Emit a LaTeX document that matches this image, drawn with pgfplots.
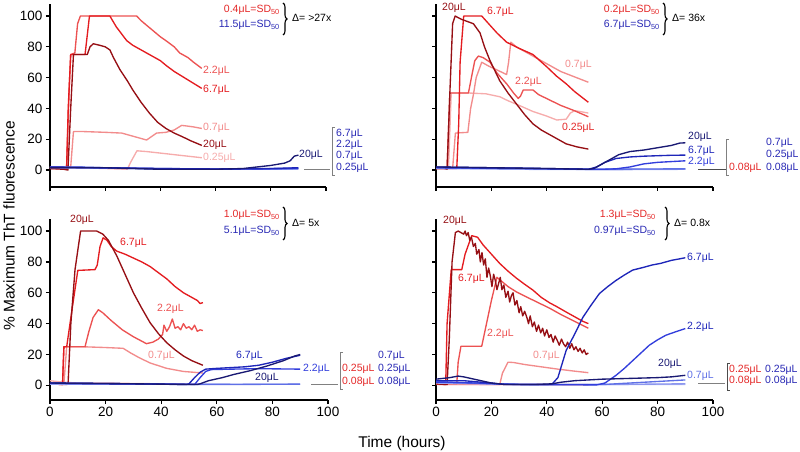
\documentclass[border=0pt]{standalone}
\usepackage{pgfplots}
\pgfplotsset{compat=1.18}
\usepackage{fontspec}
\setmainfont{Liberation Sans}
\usetikzlibrary{decorations.pathreplacing}
\definecolor{c20}{RGB}{150,15,20}
\definecolor{c67}{RGB}{228,28,32}
\definecolor{c22}{RGB}{236,82,82}
\definecolor{c07}{RGB}{242,140,140}
\definecolor{c025}{RGB}{246,172,172}
\definecolor{c008}{RGB}{248,190,190}
\definecolor{b20}{RGB}{25,25,115}
\definecolor{b67}{RGB}{30,38,185}
\definecolor{b22}{RGB}{50,62,220}
\definecolor{b07}{RGB}{95,112,230}
\definecolor{b025}{RGB}{140,150,238}
\definecolor{b008}{RGB}{170,180,245}
\definecolor{tred}{RGB}{228,40,40}
\definecolor{tblue}{RGB}{40,40,180}
\newcommand{\lfont}{\fontsize{10.5}{12}\selectfont}
\newcommand{\lab}[4]{\node[anchor=west,inner sep=0pt,text=#3,font=\lfont] at (#1,#2) {#4};}
\newcommand{\labe}[4]{\node[anchor=east,inner sep=0pt,text=#3,font=\lfont] at (#1,#2) {#4};}
\newcommand{\SD}{=SD\textsubscript{50}}
\pgfplotsset{panel/.style={scale only axis, xmin=0, xmax=100, ymax=108,
  axis lines*=left, xtick={0,20,40,60,80,100}, ytick={0,20,40,60,80,100},
  tick align=outside, major tick length=4pt,
  axis line style={line width=1.3pt, black}, tick style={line width=1.3pt, black},
  tick label style={font=\fontsize{13.5}{15}\selectfont},
  /pgf/number format/assume math mode=true,
  every axis plot/.append style={line width=1.35pt, no markers, line join=round}}}
\begin{document}
\begin{tikzpicture}
\path[use as bounding box] (0,0) rectangle (800pt,452pt);
% ---------------- Top left
\begin{axis}[panel, at={(50pt,265pt)}, anchor=south west, width=276pt, height=183.3pt, ymin=-11, xticklabels=\empty]
\addplot[c025] coordinates {(0,2)(3,2)(5,1.5)(10,1.5)(20,1)(28,0.5)(29.5,6)(31.5,12.5)(35,12)(40,11)(45,10)(50,9)(55,8)};
\addplot[c07] coordinates {(0,1.5)(6,1.5)(7.5,2)(8.5,25)(12,25)(20,24.5)(26,24)(30,22)(35,19.5)(37,22)(38.6,24)(42,24.5)(45,26)(47.7,29)(50,28.5)(52,28)(55,27)};
\addplot[c22] coordinates {(0,1)(5,1)(6,2)(7,55)(7.5,75)(9,76)(10,95)(11,100)(31.4,100)(33,97)(35,94)(40,86.5)(42,84)(45,80)(47,76)(50,73)(52,70)(55,66)};
\addplot[c67] coordinates {(0,1)(5,1)(6,0.5)(6.6,40)(7.5,75)(12.7,75)(14.3,100)(21.7,100)(24,93)(27.8,84)(30,81)(35,76)(40,71)(42,68)(45,64)(50,58.5)(55,53)};
\addplot[c20] coordinates {(0,1)(5,0.5)(6.5,0)(7.5,40)(8.5,75)(13.5,75)(14.5,80)(15.7,82)(18,81)(20,80)(21.7,78)(23,73)(25.4,65)(28,58)(30,52)(33,44)(36,37)(39,31)(42,27)(45,24)(48,21.6)(51,19)(55,16)};
\addplot[b025] coordinates {(0,1.5)(20,1.2)(40,0.8)(60,0.7)(80,0.6)(90,0.5)};
\addplot[b07] coordinates {(0,2)(10,2)(30,1)(50,0.5)(70,0.8)(90,1)};
\addplot[b22] coordinates {(0,1.8)(15,1.5)(40,1)(60,0.5)(80,0.8)(90,1.2)};
\addplot[b67] coordinates {(0,2)(20,1.5)(40,1)(60,0.7)(80,1)(90,1.5)};
\addplot[b20] coordinates {(0,1.5)(20,1.5)(40,0.5)(60,0.5)(70,1)(75,2)(80,3)(85,4.5)(87,6)(88.5,9)(90,9.7)};
\end{axis}
% ---------------- Top right
\begin{axis}[panel, at={(436pt,265pt)}, anchor=south west, width=277pt, height=183.3pt, ymin=-11, xticklabels=\empty, yticklabels=\empty]
\addplot[c025] coordinates {(0,1)(4.5,1)(5.5,50)(12,50)(18,49.5)(23,47.6)(26,45)(30,42)(35,38)(40,35)(43.6,32.5)(47,33)(48.5,37)(50,38.5)(52,38)(55,37)};
\addplot[c07] coordinates {(0,1)(6,1)(7,24)(11.5,24.5)(12.5,40)(13.5,49)(14.5,60)(16.5,70)(19,67.5)(22,65)(25.5,62)(26.2,70)(27,83)(29,80)(32,77)(35,74)(40,69)(45,64)(50,60.5)(55,57)};
\addplot[c22] coordinates {(0,1)(4,1)(5,50)(11.7,50)(13,62)(14,71)(15.3,74)(17,73)(19.5,70)(22,63)(25.5,56)(28,50)(29.7,46.5)(30.5,48)(31.5,52)(35,52)(37,49)(41,45.5)(45,42)(50,38.5)(55,34.6)};
\addplot[c67] coordinates {(0,1)(7.5,1)(8.2,30)(8.7,70)(10,100)(16.5,100)(19,95)(22,89)(25.5,83)(30,79)(35,75)(40,67)(43.5,61)(47,56)(50,51)(55,44)};
\addplot[c20] coordinates {(0,1)(3,1)(4,0.5)(5,50)(6,95)(6.9,100)(9,98)(12,96)(13.5,95)(15.9,89)(17.5,80)(19.5,71)(23,58)(26,50)(29,43)(32,36)(35,30)(38,26)(41,23)(44,20)(47,17)(51,15)(55,13.6)};
\addplot[b008] coordinates {(0,1)(30,0.5)(55,0.3)(70,0.3)(90,0.5)};
\addplot[b025] coordinates {(0,1.2)(30,0.8)(55,0.4)(90,0.6)};
\addplot[b07] coordinates {(0,1.5)(30,1)(55,0.5)(90,0.8)};
\addplot[b22] coordinates {(0,1.5)(30,1)(55,0.5)(60,0.5)(65,0.8)(70,2)(75,4)(80,5)(85,5.5)(90,6)};
\addplot[b67] coordinates {(0,2)(20,1.5)(40,1)(55,0.5)(58,2)(61,5)(65,7.5)(70,8.5)(75,9)(80,9.3)(85,9.6)(90,9.7)};
\addplot[b20] coordinates {(0,2)(20,1.5)(40,1)(55,0.5)(57,1)(60,4)(63,7)(66,10)(70,12)(75,13)(80,14.5)(85,16)(88,17.5)(90,17.7)};
\end{axis}
% ---------------- Bottom left
\begin{axis}[panel, at={(50pt,52pt)}, anchor=south west, width=278pt, height=181.3pt, ymin=-9.5]
\addplot[c025] coordinates {(0,3)(5,2)(10,1.5)(20,1.5)(30,1.2)(40,1)(55,1)};
\addplot[c07] coordinates {(0,1.5)(4,1)(5,1)(6,25)(12,25)(20,24.5)(26.3,24)(29,21)(32,18)(36,14.5)(42,11)(48,9)(55,8)};
\addplot[c22] coordinates {(0,1)(4.5,0.5)(5,25)(12.6,25)(14,35)(15.5,44)(17.4,49)(19,47)(22,42)(26,36)(30,31.5)(34.7,27)(37,28)(39,30)(40.5,33)(41,39)(42,35)(43,38)(44,43)(45,37)(46,38)(47,36)(48,40)(49,37)(50,38)(51,36)(52,39)(53,35)(54,36)(55,35.5)};
\addplot[c67] coordinates {(0,1)(4.5,0.5)(5,25)(6,25)(8,50)(10,74.5)(16.2,75)(17,78)(18,90)(19.1,95.6)(20.5,94)(22,90)(24,87)(27,85)(30,82.5)(33,80)(36,77)(39,73)(42,69)(45,64)(48,60)(51,57)(53,55)(54,53)(55,53.6)};
\addplot[c20] coordinates {(0,1)(6,0.5)(6.5,1)(7.5,40)(9,75)(11,100)(16.8,100)(19,98)(21,94)(24,84)(27,72)(30,60)(33,50)(36,40.6)(39,33.5)(42,27.6)(45,23)(48,19)(51,16)(55,13)};
\addplot[b008] coordinates {(0,0.5)(90,0.5)};
\addplot[b025] coordinates {(0,1)(45,0.8)(90,0.7)};
\addplot[b07] coordinates {(0,1.5)(30,1)(60,0.5)(90,0.8)};
\addplot[b22] coordinates {(0,1.2)(40,0.8)(52,0.5)(54,5)(56,9)(58,10.2)(65,10.5)(75,10.8)(90,10.5)};
\addplot[b67] coordinates {(0,1.5)(30,1)(49,0.5)(50,1)(52,5)(54,8.5)(56,10.5)(60,11)(65,11.5)(70,12)(75,13)(80,15)(85,17.5)(90,19.5)};
\addplot[b20] coordinates {(0,1.5)(30,1)(53,0.5)(54,1)(57,3)(62,5)(66,7)(72,9.5)(78,12.5)(84,16)(88,19)(90,20)};
\end{axis}
% ---------------- Bottom right
\begin{axis}[panel, at={(436pt,52pt)}, anchor=south west, width=277pt, height=181.3pt, ymin=-9.5, yticklabels=\empty]
\addplot[c008] coordinates {(0,0.5)(55,0.3)};
\addplot[c025] coordinates {(0,1)(55,0.5)};
\addplot[c07] coordinates {(0,1)(23,0.5)(24,8)(26,15)(28,14.8)(32,13.5)(38,12)(44,10.5)(50,9.2)(55,8.2)};
\addplot[c22] coordinates {(0,1)(7.5,1)(8,15)(9,25.3)(16.5,25.3)(18,38)(20,55)(22,70)(24,67)(26,64)(29,60.6)(33,57)(37,53.5)(41,50)(45,46)(50,41.5)(55,37)};
\addplot[c67] coordinates {(0,1)(3.5,0.5)(4,40)(5.5,75)(9.3,75)(10.5,85)(12.9,97)(15,96)(17,91)(20,85)(23,79)(26,74)(29,69.5)(32,65.5)(35,61.7)(38,57)(41,53.5)(43.6,51)(47,47.5)(50,44.5)(53,41.5)(55,40)};
\addplot[c20] coordinates {(0,1)(4,0.5)(4.8,30)(5.8,80)(7,99)(8,100)(9,99)(10,98)(10.5,100)(11,97)(11.6,99)(12.2,94)(12.8,96)(13.5,90)(14.2,92)(14.7,85)(15.5,88)(16,80)(16.6,86)(17.2,78)(17.8,82)(18.4,70)(19,76)(19.6,71)(20.2,64)(20.8,72)(21.4,68)(22,62)(22.6,66)(23.2,70)(23.8,62)(24.5,65)(25.2,57)(26,61)(26.6,54)(27.2,58)(27.8,60)(28.5,52)(29.2,55)(30,47)(30.6,51)(31.3,45)(32,48)(32.8,44)(33.4,40)(34,45)(34.8,38)(35.5,41)(36.3,35)(37,39)(37.8,34)(38.5,37)(39.2,32)(40,36)(40.8,31)(41.5,33)(42.3,28)(43,32)(43.8,29)(44.5,26)(45.3,30)(46,27)(46.8,25)(47.5,28)(48.3,24)(49,27)(49.8,23)(50.5,25)(51.3,22)(52,24)(52.8,21)(53.5,23)(54.2,20)(55,21)};
\addplot[b008] coordinates {(0,1.5)(30,0.5)(90,0.5)};
\addplot[b025] coordinates {(0,2)(30,0.5)(60,0.5)(90,1)};
\addplot[b07] coordinates {(0,2.5)(20,1)(40,0.5)(60,0.5)(70,1.5)(80,2.5)(90,3.5)};
\addplot[b22] coordinates {(0,2)(15,1.5)(30,0.5)(58,0.3)(61,1.5)(65,6.5)(68,11)(71,16)(74,21)(77,26)(80,29.5)(83,32.5)(87,35)(90,36.8)};
\addplot[b67] coordinates {(0,3)(10,3)(20,1.5)(25,0.5)(40,0.5)(42,1)(44,5)(47,22.7)(50,33)(53,44)(56,52)(59,59.5)(62,64)(65,68)(68,71.5)(71,74.7)(75,76.5)(78,78)(81,79)(85,81)(88,82)(90,82.7)};
\addplot[b20] coordinates {(0,4)(5,5)(8,6)(10,5.5)(15,3.5)(20,1.5)(25,0.5)(35,0.5)(42,1)(45,2)(50,3)(55,3.5)(60,4)(70,4.5)(80,5)(85,5.5)(90,6.5)};
\end{axis}
% ---------------- axis titles
\node[rotate=90,font=\fontsize{15.5}{18}\selectfont,inner sep=0pt] at (9pt,226pt) {\% Maximum ThT fluorescence};
\node[font=\fontsize{15.5}{18}\selectfont,inner sep=0pt] at (402pt,9pt) {Time (hours)};
% ---------------- braces
\draw[decorate,decoration={brace,amplitude=4pt},line width=1.1pt] (283pt,449pt) -- (283pt,417pt);
\draw[decorate,decoration={brace,amplitude=4pt},line width=1.1pt] (663pt,449pt) -- (663pt,417pt);
\draw[decorate,decoration={brace,amplitude=4pt},line width=1.1pt] (283pt,245pt) -- (283pt,212pt);
\draw[decorate,decoration={brace,amplitude=4pt},line width=1.1pt] (665pt,245pt) -- (665pt,212pt);
\begin{scope}[x=1pt,y=-1pt,shift={(0pt,452pt)}]
% TL
\labe{280}{10}{tred}{0.4μL\SD}
\labe{280}{25}{tblue}{11.5μL\SD}
\lab{292}{18}{black}{Δ= >27x}
\lab{203}{71}{c22}{2.2μL}
\lab{203}{90}{c67}{6.7μL}
\lab{203}{128}{c07}{0.7μL}
\lab{203}{145}{c20}{20μL}
\lab{203}{158}{c025}{0.25μL}
\lab{299}{155}{b20}{20μL}
\draw[gray,line width=1pt] (304,170) -- (330,170);
\draw[gray,line width=0.9pt] (335,127) -- (332,127) -- (332,175) -- (335,175);
\lab{336}{134}{tblue}{6.7μL}
\lab{336}{145}{tblue}{2.2μL}
\lab{336}{156}{tblue}{0.7μL}
\lab{336}{168}{tblue}{0.25μL}
% TR
\labe{660}{10}{tred}{0.2μL\SD}
\labe{660}{25}{tblue}{6.7μL\SD}
\lab{672}{18}{black}{Δ= 36x}
\lab{442}{8}{c20}{20μL}
\lab{487}{12}{c67}{6.7μL}
\lab{565}{65}{c07}{0.7μL}
\lab{515}{82}{c22}{2.2μL}
\lab{562}{128}{tred}{0.25μL}
\lab{688}{137}{b20}{20μL}
\lab{688}{151}{b67}{6.7μL}
\lab{688}{162}{b22}{2.2μL}
\draw[black!70,line width=1pt] (698,170) -- (726,170);
\draw[gray,line width=0.9pt] (729,139) -- (726,139) -- (726,175) -- (729,175);
\lab{729}{168}{tred}{0.08μL}
\lab{766}{143}{tblue}{0.7μL}
\lab{766}{155}{tblue}{0.25μL}
\lab{766}{168}{tblue}{0.08μL}
% BL
\labe{280}{215}{tred}{1.0μL\SD}
\labe{280}{231}{tblue}{5.1μL\SD}
\lab{292}{223}{black}{Δ= 5x}
\lab{70}{220}{c20}{20μL}
\lab{120}{243}{c67}{6.7μL}
\lab{157}{309}{c22}{2.2μL}
\lab{148}{356}{c07}{0.7μL}
\lab{236}{356}{b67}{6.7μL}
\lab{303}{369}{b22}{2.2μL}
\lab{255}{378}{b20}{20μL}
\draw[gray,line width=1pt] (311,385) -- (338,385);
\draw[gray,line width=0.9pt] (343,352) -- (340,352) -- (340,389) -- (343,389);
\lab{342}{369}{tred}{0.25μL}
\lab{342}{382}{tred}{0.08μL}
\lab{378}{356}{tblue}{0.7μL}
\lab{378}{369}{tblue}{0.25μL}
\lab{378}{382}{tblue}{0.08μL}
% BR
\labe{656}{215}{tred}{1.3μL\SD}
\labe{656}{231}{tblue}{0.97μL\SD}
\lab{674}{223}{black}{Δ= 0.8x}
\lab{443}{221}{c20}{20μL}
\lab{458}{279}{c67}{6.7μL}
\lab{487}{334}{c22}{2.2μL}
\lab{533}{356}{c07}{0.7μL}
\lab{687}{258}{b67}{6.7μL}
\lab{687}{327}{b67}{2.2μL}
\lab{658}{364}{b20}{20μL}
\lab{687}{376}{b07}{0.7μL}
\draw[gray,line width=1pt] (698,384) -- (725,384);
\draw[black!70,line width=0.9pt] (730,363) -- (727,363) -- (727,390) -- (730,390);
\lab{729}{370}{tred}{0.25μL}
\lab{729}{381}{tred}{0.08μL}
\lab{765}{370}{tblue}{0.25μL}
\lab{765}{381}{tblue}{0.08μL}
\end{scope}
\end{tikzpicture}
\end{document}
